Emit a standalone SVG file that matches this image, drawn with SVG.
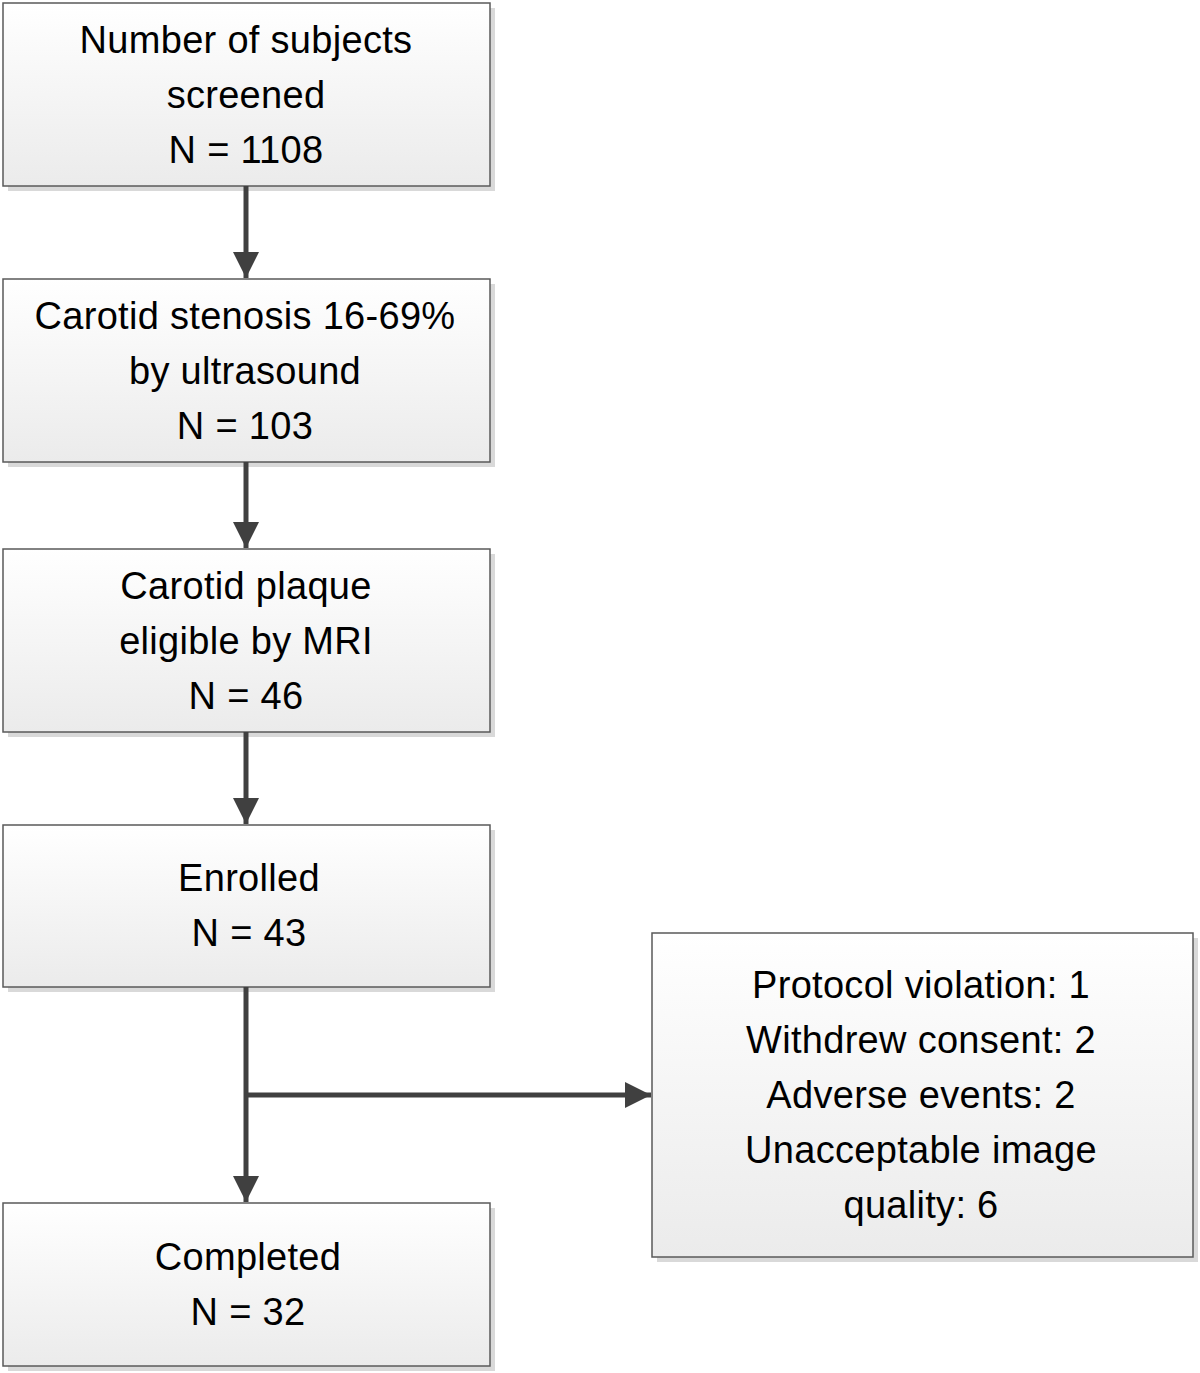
<svg xmlns="http://www.w3.org/2000/svg" width="1200" height="1373" viewBox="0 0 1200 1373">
<defs>
<linearGradient id="g" x1="0" y1="0" x2="0" y2="1">
<stop offset="0" stop-color="#ffffff"/>
<stop offset="1" stop-color="#ebebeb"/>
</linearGradient>
<marker id="ah" viewBox="0 0 10 10" refX="10" refY="5" markerWidth="5.6" markerHeight="5.2" markerUnits="strokeWidth" orient="auto">
<path d="M0,0 L10,5 L0,10 Z" fill="#404040"/>
</marker>
</defs>
<style>
.box{fill:url(#g);stroke:#5a5a5a;stroke-width:1.5}
.sh{fill:#d9d9d9}
.t{font-family:"Liberation Sans",Arial,sans-serif;font-size:38px;letter-spacing:0.3px;fill:#000;text-anchor:middle}
.c{stroke:#404040;stroke-width:5;fill:none}
</style>
<rect width="1200" height="1373" fill="#fff"/>
<g id="n1">
<rect class="sh" x="8" y="8" width="487" height="183"/>
<rect class="box" x="3" y="3" width="487" height="183"/>
<text class="t" x="246" y="53">Number of subjects</text>
<text class="t" x="246" y="108">screened</text>
<text class="t" x="246" y="163">N = 1108</text>
</g>
<g id="n2">
<rect class="sh" x="8" y="284" width="487" height="183"/>
<rect class="box" x="3" y="279" width="487" height="183"/>
<text class="t" x="245" y="329">Carotid stenosis 16-69%</text>
<text class="t" x="245" y="384">by ultrasound</text>
<text class="t" x="245" y="439">N = 103</text>
</g>
<g id="n3">
<rect class="sh" x="8" y="554" width="487" height="183"/>
<rect class="box" x="3" y="549" width="487" height="183"/>
<text class="t" x="246" y="599">Carotid plaque</text>
<text class="t" x="246" y="654">eligible by MRI</text>
<text class="t" x="246" y="709">N = 46</text>
</g>
<g id="n4">
<rect class="sh" x="8" y="830" width="487" height="162"/>
<rect class="box" x="3" y="825" width="487" height="162"/>
<text class="t" x="249" y="891">Enrolled</text>
<text class="t" x="249" y="946">N = 43</text>
</g>
<g id="n5">
<rect class="sh" x="8" y="1208" width="487" height="163"/>
<rect class="box" x="3" y="1203" width="487" height="163"/>
<text class="t" x="248" y="1270">Completed</text>
<text class="t" x="248" y="1325">N = 32</text>
</g>
<g id="n6">
<rect class="sh" x="657" y="938" width="541" height="324"/>
<rect class="box" x="652" y="933" width="541" height="324"/>
<text class="t" x="921" y="998">Protocol violation: 1</text>
<text class="t" x="921" y="1053">Withdrew consent: 2</text>
<text class="t" x="921" y="1108">Adverse events: 2</text>
<text class="t" x="921" y="1163">Unacceptable image</text>
<text class="t" x="921" y="1218">quality: 6</text>
</g>
<g id="connectors">
<line class="c" x1="246" y1="186" x2="246" y2="278" marker-end="url(#ah)"/>
<line class="c" x1="246" y1="462" x2="246" y2="548" marker-end="url(#ah)"/>
<line class="c" x1="246" y1="732" x2="246" y2="824" marker-end="url(#ah)"/>
<line class="c" x1="246" y1="987" x2="246" y2="1202" marker-end="url(#ah)"/>
<line class="c" x1="246" y1="1095" x2="651" y2="1095" marker-end="url(#ah)"/>
</g>
</svg>
